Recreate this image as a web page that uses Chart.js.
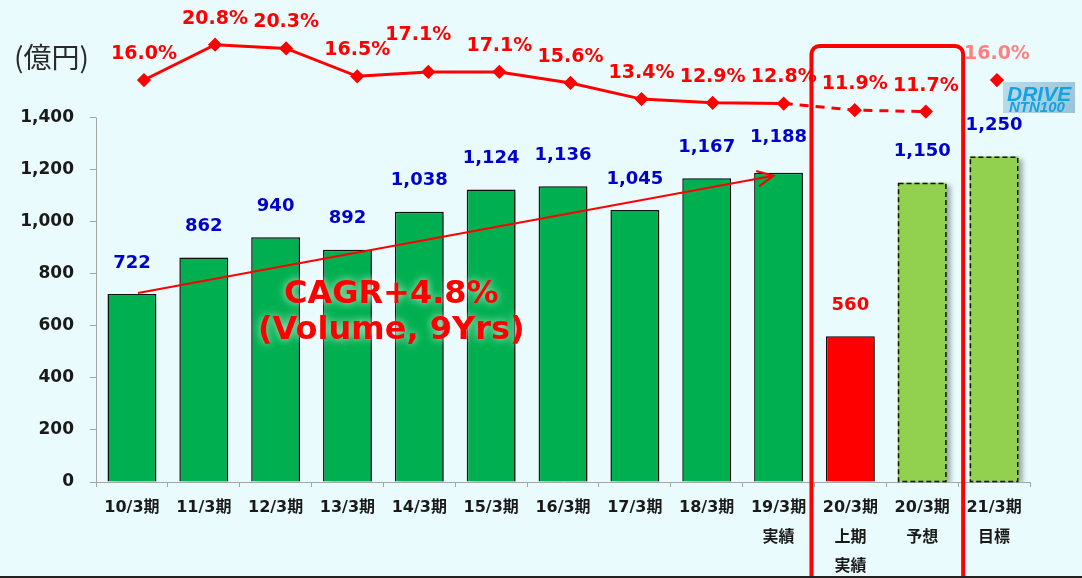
<!DOCTYPE html>
<html>
<head>
<meta charset="utf-8">
<script src="https://cdn.jsdelivr.net/npm/chart.js@4.4.1/dist/chart.umd.min.js"></script>
<style>
  html, body { margin: 0; padding: 0; background: #e9fbfd; }
  #contenedor { width: 1082px; height: 578px; position: relative; }
</style>
</head>
<body>
<div id="contenedor"><canvas id="grafica"></canvas></div>
<script>
// datos
const periodos = [
    ['10/3期'], ['11/3期'], ['12/3期'], ['13/3期'], ['14/3期'], ['15/3期'], ['16/3期'],
    ['17/3期'], ['18/3期'], ['19/3期', '実績'], ['20/3期', '上期', '実績'], ['20/3期', '予想'], ['21/3期', '目標']
];
const ventas = [722, 862, 940, 892, 1038, 1124, 1136, 1045, 1167, 1188, 560, 1150, 1250];
const margen = [16.0, 20.8, 20.3, 16.5, 17.1, 17.1, 15.6, 13.4, 12.9, 12.8, 11.9, 11.7, 16.0];
const ticksY = [0, 200, 400, 600, 800, 1000, 1200, 1400];

const coloresBarra = ['#00b050', '#00b050', '#00b050', '#00b050', '#00b050', '#00b050', '#00b050',
    '#00b050', '#00b050', '#00b050', '#ff0000', '#92d050', '#92d050'];

const FUENTE = '"DejaVu Sans", "Noto Sans CJK JP", sans-serif';
Chart.defaults.font.family = FUENTE;

const flecha = (ctx, x0, y0, x1, y1) => {
    const ang = Math.atan2(y1 - y0, x1 - x0);
    ctx.beginPath();
    ctx.moveTo(x0, y0);
    ctx.lineTo(x1, y1);
    ctx.moveTo(x1 - 18 * Math.cos(ang - 0.45), y1 - 18 * Math.sin(ang - 0.45));
    ctx.lineTo(x1, y1);
    ctx.lineTo(x1 - 18 * Math.cos(ang + 0.45), y1 - 18 * Math.sin(ang + 0.45));
    ctx.stroke();
};

const decoracion = {
    id: 'decoracion',
    beforeDatasetDraw(chart, args) {
        if (args.meta.type !== 'bar') return;
        const c = chart.ctx;
        c.save();
        c.shadowColor = 'rgba(0,0,0,0.35)';
        c.shadowBlur = 5;
        c.shadowOffsetX = 4;
        c.shadowOffsetY = 2;
    },
    afterDatasetDraw(chart, args) {
        if (args.meta.type !== 'bar') return;
        const c = chart.ctx;
        c.restore();
        // bordes punteados de las barras de pronostico
        c.save();
        c.strokeStyle = '#111';
        c.lineWidth = 1.5;
        c.setLineDash([5, 3]);
        [11, 12].forEach(i => {
            const b = args.meta.data[i].getProps(['x', 'y', 'base', 'width'], true);
            c.strokeRect(b.x - b.width / 2 + 0.75, b.y + 0.75, b.width - 1.5, b.base - b.y - 0.75);
        });
        c.restore();
        // flecha CAGR
        const xs = chart.scales.x, ys = chart.scales.y;
        c.save();
        c.strokeStyle = '#ff0000';
        c.lineWidth = 2;
        flecha(c, xs.getPixelForValue(0) + 6, ys.getPixelForValue(ventas[0]) - 1,
            xs.getPixelForValue(9) - 5, ys.getPixelForValue(ventas[9]) + 3);
        c.restore();
    },
    afterDatasetsDraw(chart) {
        const c = chart.ctx;
        const xs = chart.scales.x, ys = chart.scales.y;
        c.save();
        c.textAlign = 'center';
        c.textBaseline = 'middle';

        // valores de las barras
        c.font = 'bold 18px ' + FUENTE;
        chart.getDatasetMeta(0).data.forEach((el, i) => {
            c.fillStyle = i === 10 ? '#ff0000' : '#0000cc';
            c.fillText(ventas[i].toLocaleString('en-US'), el.x, el.y - (i === 9 ? 35 : 31));
        });

        // porcentajes de la linea
        c.font = 'bold 19px ' + FUENTE;
        chart.getDatasetMeta(1).data.forEach((pt, i) => {
            c.fillStyle = i === 12 ? '#ff8080' : '#ff0000';
            const dx = i === 4 ? -10 : 0;
            const dy = i === 4 ? -37 : -26;
            c.fillText(margen[i].toFixed(1) + '%', pt.x + dx, pt.y + dy);
        });

        // texto CAGR
        const cx = xs.getPixelForValue(3.61);
        const cy = ys.getPixelForValue(720);
        c.font = 'bold 32px ' + FUENTE;
        c.fillStyle = '#ff0000';
        c.shadowColor = 'rgba(255,255,255,0.8)';
        c.shadowBlur = 8;
        c.fillText('CAGR+4.8%', cx, cy);
        c.fillText('(Volume, 9Yrs)', cx, cy + 36);
        c.shadowBlur = 0;
        c.shadowColor = 'transparent';

        // unidad
        c.textAlign = 'left';
        c.font = '28px "Noto Sans CJK JP", sans-serif';
        c.fillStyle = '#2a2a2a';
        c.fillText('(億円)', 14, 57);
        c.restore();
    },
    afterDraw(chart) {
        const c = chart.ctx;
        const xs = chart.scales.x, ys = chart.scales.y;
        const area = chart.chartArea;
        c.save();
        // eje Y solo hasta 1,400
        c.strokeStyle = '#a6a6a6';
        c.lineWidth = 1;
        c.beginPath();
        c.moveTo(area.left + 0.5, ys.getPixelForValue(1400));
        c.lineTo(area.left + 0.5, ys.getPixelForValue(0) + 5);
        c.stroke();

        // recuadro rojo del 20/3
        const medio = (xs.getPixelForValue(1) - xs.getPixelForValue(0)) / 2;
        const l = xs.getPixelForValue(10) - medio - 3;
        const r = xs.getPixelForValue(11) + medio + 5;
        const t = 46, b = 620, rad = 8;
        c.strokeStyle = '#ff0000';
        c.lineWidth = 4;
        c.beginPath();
        c.moveTo(l, b);
        c.lineTo(l, t + rad);
        c.arcTo(l, t, l + rad, t, rad);
        c.lineTo(r - rad, t);
        c.arcTo(r, t, r, t + rad, rad);
        c.lineTo(r, b);
        c.stroke();

        // logo DRIVE NTN100
        const lx = area.right - 27, ly = 82;
        const g = c.createLinearGradient(lx, ly, lx + 72, ly + 31);
        g.addColorStop(0, '#bcdcea');
        g.addColorStop(1, '#9bc3d8');
        c.fillStyle = g;
        c.fillRect(lx, ly, 72, 31);
        c.fillStyle = '#12a3e6';
        c.textAlign = 'left';
        c.textBaseline = 'alphabetic';
        c.font = 'italic bold 21px "Liberation Sans", sans-serif';
        c.fillText('DRIVE', lx + 4, ly + 19);
        c.font = 'italic bold 15px "Liberation Sans", sans-serif';
        c.fillText('NTN100', lx + 6, ly + 30);

        // linea inferior
        c.fillStyle = '#222';
        c.fillRect(0, chart.height - 2, chart.width, 2);
        c.restore();
    }
};

const ctx = document.getElementById('grafica');
new Chart(ctx, {
    type: 'bar',
    data: {
        labels: periodos,
        datasets: [{
            type: 'bar',
            data: ventas,
            backgroundColor: coloresBarra,
            borderColor: '#111',
            borderWidth: c => c.dataIndex >= 11 ? 0 : 1.5,
            barPercentage: 0.68,
            categoryPercentage: 1,
            grouped: false,
            xAxisID: 'x',
            yAxisID: 'y',
            order: 2
        }, {
            type: 'line',
            data: margen.map((v, i) => ({ x: i, y: v })),
            xAxisID: 'x2',
            yAxisID: 'y2',
            borderColor: '#ff0000',
            borderWidth: 3,
            pointStyle: 'rectRot',
            pointRadius: 5,
            pointBackgroundColor: '#ff0000',
            pointBorderColor: '#ff0000',
            tension: 0,
            order: 1,
            segment: {
                borderDash: s => s.p0DataIndex >= 9 ? [9, 7] : undefined,
                borderColor: s => s.p0DataIndex >= 11 ? 'rgba(0,0,0,0)' : undefined
            }
        }]
    },
    options: {
        responsive: true,
        maintainAspectRatio: false,
        animation: false,
        events: [],
        layout: { padding: { top: 16, right: 52, left: 0, bottom: 0 } },
        plugins: {
            legend: { display: false },
            tooltip: { enabled: false }
        },
        scales: {
            x: {
                type: 'category',
                offset: true,
                grid: { offset: true, drawOnChartArea: false, drawTicks: true, tickLength: 5, color: '#a6a6a6' },
                border: { display: true, color: '#a6a6a6' },
                ticks: {
                    color: '#1a1a1a',
                    font: { size: 16, weight: 'bold', lineHeight: 1.85 },
                    padding: 6,
                    maxRotation: 0,
                    autoSkip: false
                },
                afterFit: s => { s.height = 96; }
            },
            x2: { type: 'linear', display: false, offset: false, min: -0.675, max: 12.465 },
            y: {
                type: 'linear',
                min: 0,
                max: 1751,
                afterBuildTicks: s => { s.ticks = ticksY.map(v => ({ value: v })); },
                ticks: {
                    color: '#1a1a1a',
                    font: { size: 17, weight: 'bold' },
                    padding: 16,
                    callback: v => v.toLocaleString('en-US')
                },
                grid: { drawOnChartArea: false, drawTicks: true, tickLength: 6, color: '#a6a6a6' },
                border: { display: false },
                afterFit: s => { s.width = 96; }
            },
            y2: { type: 'linear', display: false, min: -38.69, max: 23.32 }
        }
    },
    plugins: [decoracion]
});
</script>
</body>
</html>
